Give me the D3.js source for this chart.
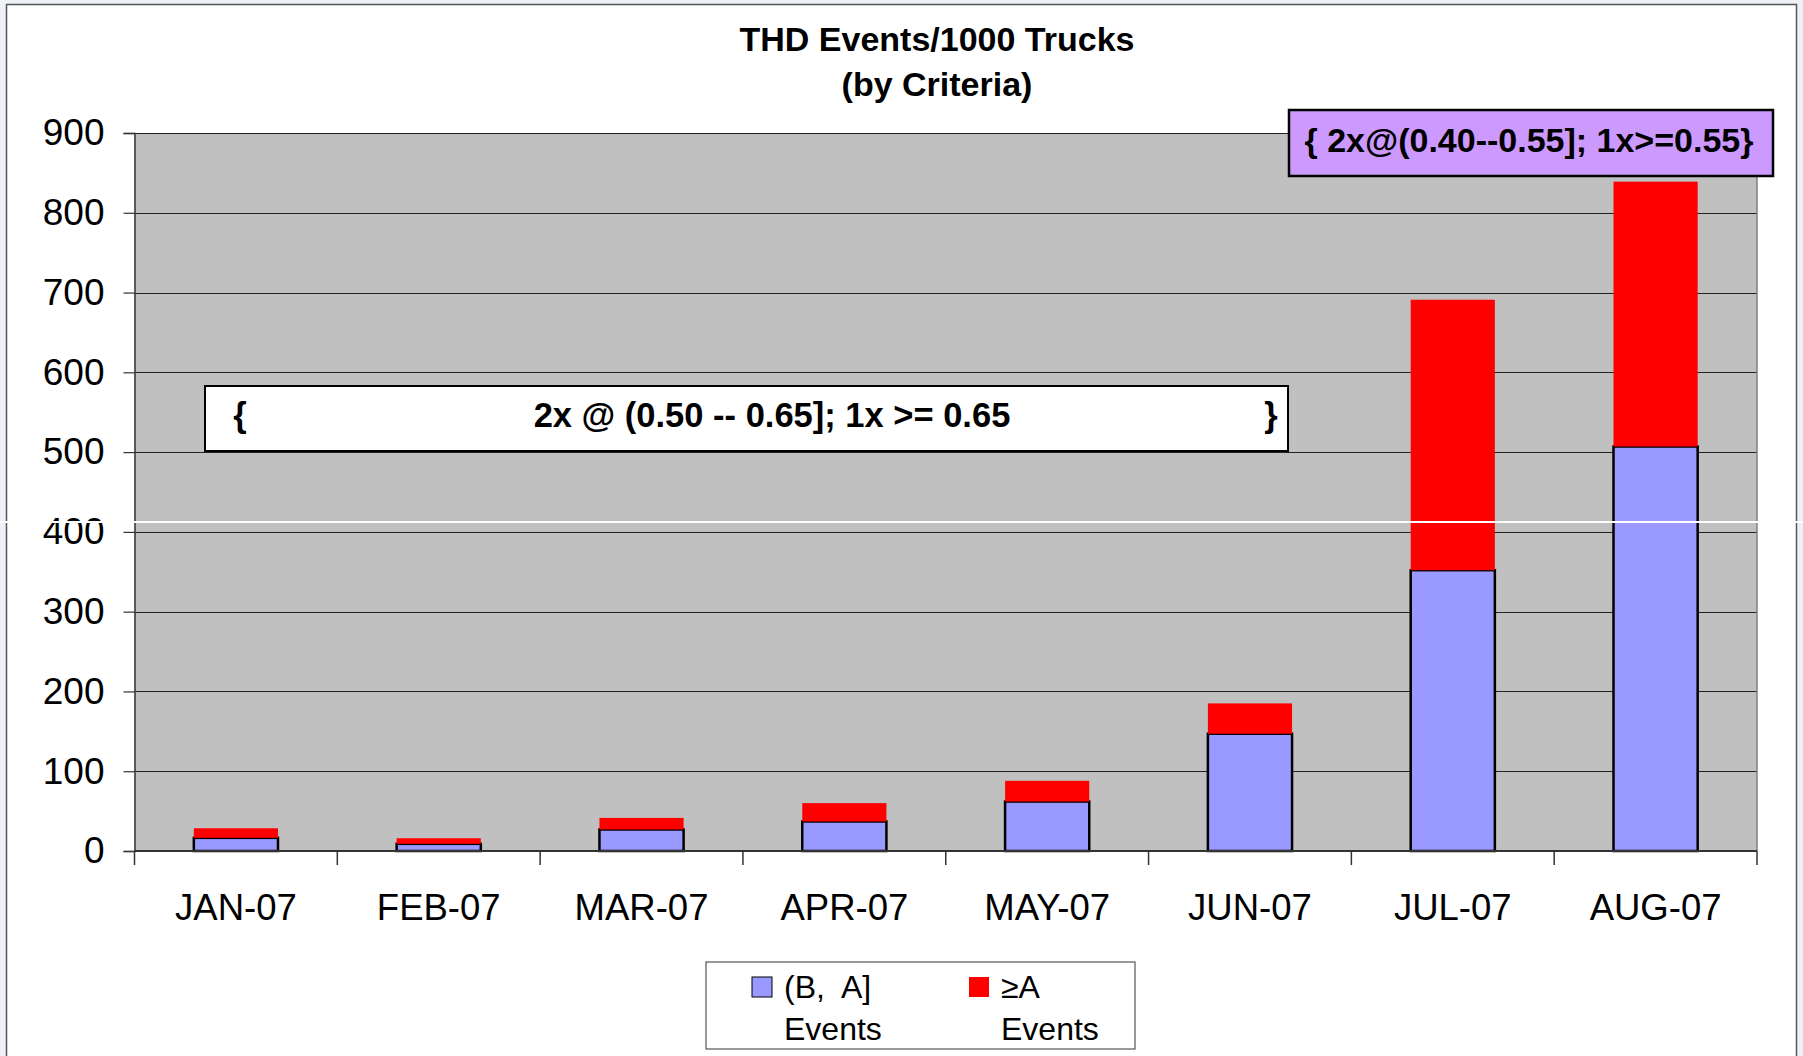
<!DOCTYPE html>
<html>
<head>
<meta charset="utf-8">
<script src="https://cdn.jsdelivr.net/npm/d3@7/dist/d3.min.js"></script>
<style>
  body { margin: 0; background: #fff; }
  svg { display: block; }
  text { font-family: "Liberation Sans", Arial, sans-serif; fill: #000; }
</style>
</head>
<body>
<div id="chart"></div>
<script>
// data
var months = ["JAN-07", "FEB-07", "MAR-07", "APR-07", "MAY-07", "JUN-07", "JUL-07", "AUG-07"];
var eventsBA = [16.5, 9, 27, 37, 62, 147, 352, 507];     // (B, A] events
var eventsA = [12, 7, 14.5, 23, 26, 38, 339, 332];       // >=A events
var yTicks = [0, 100, 200, 300, 400, 500, 600, 700, 800, 900];
var seriesKeys = ["ba", "a"];
var seriesLabels = [["(B,  A]", "Events"], ["\u2265A", "Events"]];
var seriesColors = ["#9999FF", "#FF0000"];
var title = ["THD Events/1000 Trucks", "(by Criteria)"];
var noteWhite = "2x @ (0.50 -- 0.65]; 1x >= 0.65";
var notePurple = "{ 2x@(0.40--0.55]; 1x>=0.55}";

var W = 1803, H = 1056;
var m = {left: 134.5, right: 1757, top: 133, bottom: 851};

var rows = months.map(function(d, i) { return {month: d, ba: eventsBA[i], a: eventsA[i]}; });

var svg = d3.select("#chart").append("svg")
    .attr("width", W)
    .attr("height", H);

// slide background and frame
svg.append("rect").attr("width", W).attr("height", H).attr("fill", "#eef2f7");
svg.append("rect")
    .attr("x", 6.5).attr("y", 4.5)
    .attr("width", 1790).attr("height", H)
    .attr("fill", "#fff")
    .attr("stroke", "#555").attr("stroke-width", 1.5);

var x = d3.scaleBand().domain(months).range([m.left, m.right]).paddingInner(0.585).paddingOuter(0.2925);
var xEdge = d3.scaleLinear().domain([0, months.length]).range([m.left, m.right]);
var y = d3.scaleLinear().domain([0, 900]).range([m.bottom, m.top]);

// plot area
svg.append("rect")
    .attr("x", m.left).attr("y", m.top)
    .attr("width", m.right - m.left).attr("height", m.bottom - m.top)
    .attr("fill", "#C0C0C0");

// gridlines
svg.append("g").selectAll("line")
    .data(yTicks.filter(function(t) { return t > 0; }))
    .enter().append("line")
    .attr("x1", m.left).attr("x2", m.right)
    .attr("y1", function(d) { return Math.round(y(d)) + 0.5; })
    .attr("y2", function(d) { return Math.round(y(d)) + 0.5; })
    .attr("stroke", "#222").attr("stroke-width", 1.2);

// right border of plot
svg.append("line")
    .attr("x1", m.right).attr("x2", m.right)
    .attr("y1", m.top).attr("y2", m.bottom)
    .attr("stroke", "#808080").attr("stroke-width", 1.5);

// stacked bars
var stack = d3.stack().keys(seriesKeys)(rows);
var layers = svg.append("g").selectAll("g")
    .data(stack)
    .enter().append("g")
    .attr("fill", function(d, i) { return seriesColors[i]; });

layers.selectAll("rect")
    .data(function(d) { return d; })
    .enter().append("rect")
    .attr("x", function(d) { return x(d.data.month); })
    .attr("width", x.bandwidth())
    .attr("y", function(d) { return y(d[1]); })
    .attr("height", function(d) { return y(d[0]) - y(d[1]); })
    .attr("stroke", function() { return d3.select(this.parentNode).datum().key == "ba" ? "#000" : "none"; })
    .attr("stroke-width", 2.5);

// y axis
var yAxis = svg.append("g")
    .attr("transform", "translate(" + m.left + ",0)")
    .call(d3.axisLeft(y).tickValues(yTicks).tickSize(11).tickPadding(19));
yAxis.select(".domain").attr("stroke", "#333").attr("stroke-width", 1.5);
yAxis.selectAll(".tick line").attr("stroke", "#333").attr("stroke-width", 1.2);
yAxis.selectAll("text").style("font-size", "37px").attr("fill", "#000");

// x axis with ticks at category boundaries
svg.append("line")
    .attr("x1", m.left).attr("x2", m.right)
    .attr("y1", m.bottom).attr("y2", m.bottom)
    .attr("stroke", "#333").attr("stroke-width", 2);
svg.append("g").selectAll("line")
    .data(d3.range(months.length + 1))
    .enter().append("line")
    .attr("x1", function(d) { return xEdge(d); })
    .attr("x2", function(d) { return xEdge(d); })
    .attr("y1", m.bottom).attr("y2", m.bottom + 14)
    .attr("stroke", "#333").attr("stroke-width", 1.5);
svg.append("g").selectAll("text")
    .data(months)
    .enter().append("text")
    .attr("x", function(d) { return x(d) + x.bandwidth() / 2; })
    .attr("y", 920)
    .attr("text-anchor", "middle")
    .style("font-size", "36.5px")
    .text(function(d) { return d; });

// title
svg.append("g").selectAll("text")
    .data(title)
    .enter().append("text")
    .attr("x", 937)
    .attr("y", function(d, i) { return 51 + i * 45; })
    .attr("text-anchor", "middle")
    .style("font-size", "34px")
    .style("font-weight", "bold")
    .text(function(d) { return d; });

// white criteria note
var note1 = svg.append("g");
note1.append("rect")
    .attr("x", 205).attr("y", 386).attr("width", 1083).attr("height", 65)
    .attr("fill", "#fff").attr("stroke", "#000").attr("stroke-width", 2);
note1.append("text").attr("x", 240).attr("y", 427).attr("text-anchor", "middle")
    .style("font-size", "34.5px").style("font-weight", "bold").text("{");
note1.append("text").attr("x", 1271).attr("y", 427).attr("text-anchor", "middle")
    .style("font-size", "34.5px").style("font-weight", "bold").text("}");
note1.append("text").attr("x", 772).attr("y", 427).attr("text-anchor", "middle")
    .style("font-size", "34.5px").style("font-weight", "bold").text(noteWhite);

// purple criteria note
var note2 = svg.append("g");
note2.append("rect")
    .attr("x", 1289).attr("y", 110).attr("width", 484).attr("height", 66)
    .attr("fill", "#CC99FF").attr("stroke", "#000").attr("stroke-width", 2.5);
note2.append("text").attr("x", 1529).attr("y", 152).attr("text-anchor", "middle")
    .style("font-size", "34px").style("font-weight", "bold").text(notePurple);

// legend
var lg = svg.append("g").attr("transform", "translate(706,962)");
lg.append("rect").attr("width", 429).attr("height", 87)
    .attr("fill", "#fff").attr("stroke", "#555").attr("stroke-width", 1.2);
var items = lg.selectAll("g.item")
    .data(seriesLabels)
    .enter().append("g")
    .attr("class", "item")
    .attr("transform", function(d, i) { return "translate(" + (46 + i * 217) + ",0)"; });
items.append("rect")
    .attr("x", 0).attr("y", 15).attr("width", 20).attr("height", 20)
    .attr("fill", function(d, i) { return seriesColors[i]; })
    .attr("stroke", function(d, i) { return i == 0 ? "#000" : "none"; })
    .attr("stroke-width", 1);
items.append("text")
    .attr("x", 32).attr("y", 36)
    .style("font-size", "32px")
    .style("white-space", "pre")
    .text(function(d) { return d[0]; });
items.append("text")
    .attr("x", 32)
    .attr("y", 78)
    .style("font-size", "32px")
    .text(function(d) { return d[1]; });

// white seam across the slide
svg.append("line")
    .attr("x1", 0).attr("x2", W)
    .attr("y1", 522).attr("y2", 522)
    .attr("stroke", "#fff").attr("stroke-width", 2);
</script>
</body>
</html>
